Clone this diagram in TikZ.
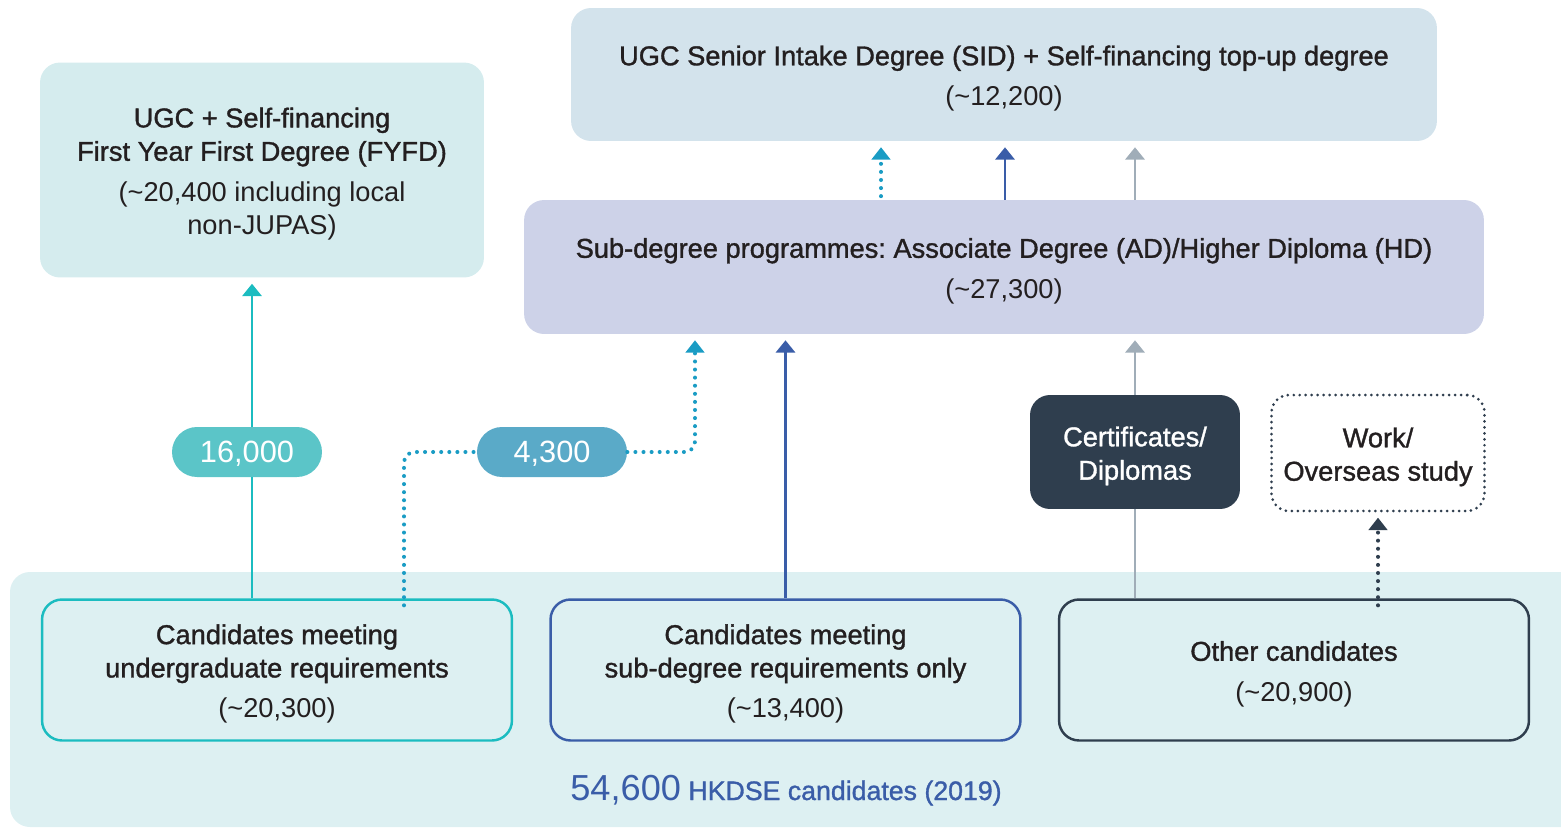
\documentclass[tikz,border=0pt]{standalone}
\usepackage{fontspec}
\setmainfont{Liberation Sans}
\newfontfamily\medfont{Liberation Sans}[FakeBold=1.2]
\usetikzlibrary{arrows.meta}
\definecolor{bandbg}{HTML}{DDF0F2}
\definecolor{fyfdbg}{HTML}{D5ECEE}
\definecolor{sidbg}{HTML}{D3E3EC}
\definecolor{subbg}{HTML}{CDD2E8}
\definecolor{tealc}{HTML}{1BBCC0}
\definecolor{pillA}{HTML}{5BC5C8}
\definecolor{pillB}{HTML}{5AAAC8}
\definecolor{dotc}{HTML}{1A9CC4}
\definecolor{bluec}{HTML}{3A5DA8}
\definecolor{greyc}{HTML}{A0ADB8}
\definecolor{darkc}{HTML}{2F3E4E}
\definecolor{txt}{HTML}{231F20}
\newcommand{\tpad}{\rule{0pt}{15.7pt}}
\tikzset{>={Triangle[width=11pt,length=7pt]}}
\tikzset{
  boxtext/.style={align=center, text=txt,
    font=\fontsize{15.5}{19}\selectfont\frenchspacing},
  bigbox/.style={boxtext, rounded corners=0.4cm, inner sep=0pt},
  candbox/.style={boxtext, rounded corners=0.4cm, fill=bandbg, line width=1.4pt,
    minimum width=9.4cm, minimum height=2.82cm, inner sep=0pt},
  pill/.style={rounded corners=0.5cm, minimum width=3cm, minimum height=1cm, text height=14.7pt,
    text=white, font=\fontsize{17.5}{20}\selectfont, inner sep=0pt},
  solidarr/.style={->, line width=1.3pt},
  dotarr/.style={line width=2.3pt, line cap=round, dash pattern=on 0pt off 4.6pt},
}

\begin{document}
\begin{tikzpicture}[x=0.02cm, y=-0.02cm]
    \useasboundingbox (0,0) rectangle (1561,828);
    % background band
    \fill[bandbg, rounded corners=0.4cm] (10,572) rectangle (1590,827);
    % top boxes
    \node[bigbox, fill=fyfdbg, minimum width=8.88cm, minimum height=4.3cm] (fyfd) at (262,170)
        {\tpad\medfont UGC + Self-financing\\ \medfont First Year First Degree (FYFD)\\[4pt] (\textasciitilde 20,400 including local\\ non-JUPAS)};
    \node[bigbox, fill=sidbg, minimum width=17.32cm, minimum height=2.66cm] (sid) at (1004,74.5)
        {\tpad\medfont UGC Senior Intake Degree (SID) + Self-financing top-up degree\\[4pt] (\textasciitilde 12,200)};
    \node[bigbox, fill=subbg, minimum width=19.2cm, minimum height=2.68cm] (sub) at (1004,267)
        {\tpad\medfont Sub-degree programmes: Associate Degree (AD)/Higher Diploma (HD)\\[4pt] (\textasciitilde 27,300)};
    % candidate boxes
    \node[candbox, draw=tealc] (cand1) at (277,670)
        {\tpad\medfont Candidates meeting\\ \medfont undergraduate requirements\\[4pt] (\textasciitilde 20,300)};
    \node[candbox, draw=bluec] (cand2) at (785.5,670)
        {\tpad\medfont Candidates meeting\\ \medfont sub-degree requirements only\\[4pt] (\textasciitilde 13,400)};
    \node[candbox, draw=darkc] (cand3) at (1294,670)
        {\tpad\medfont Other candidates\\[4pt] (\textasciitilde 20,900)};
    % side boxes
    \node[boxtext, fill=darkc, text=white, rounded corners=0.4cm, minimum width=4.2cm,
        minimum height=2.28cm, inner sep=0pt] (cert) at (1135,452) {\tpad\medfont Certificates/\\ \medfont Diplomas};
    \node[boxtext, draw=darkc, line width=1.7pt, line cap=round, dash pattern=on 0pt off 3.4pt,
        rounded corners=0.35cm, minimum width=4.26cm, minimum height=2.32cm, inner sep=0pt]
        (work) at (1378,453) {\tpad\medfont Work/\\ \medfont Overseas study};
    % pills
    \node[pill, fill=pillA] (p16) at (247,452) {16,000};
    \node[pill, fill=pillB] (p43) at (552,452) {4,300};
    %\node at (786,800) ...
    \node[anchor=base, text=bluec, font=\fontsize{15.2}{18}\selectfont] (total) at (786,800)
        {{\fontsize{20.6}{24}\selectfont 54,600} \medfont HKDSE candidates (2019)};

    % connectors
    \coordinate (tA) at (252,452);
    \coordinate (dA) at (404,452);
    \coordinate (dB) at (695,452);
    \draw[tealc, line width=1.3pt] (tA |- cand1.north) -- (tA |- p16.south);
    \draw[solidarr, tealc, shorten >=3.4pt] (tA |- p16.north) -- (tA |- fyfd.south);
    \draw[dotarr, dotc, rounded corners=6pt] ([yshift=-4pt]dA |- cand1.north) -- (dA) -- (p43.west);
    \draw[dotarr, dotc, rounded corners=6pt] (p43.east) -- (dB) -- ([yshift=-10pt]dB |- sub.south);
    \fill[dotc] ([yshift=-3.4pt]dB |- sub.south) -- ++(-5.5pt,-7pt) -- ++(11pt,0) -- cycle;
    \draw[solidarr, bluec, shorten >=3.4pt] (cand2.north) -- (cand2.north |- sub.south);
    \draw[greyc, line width=1.3pt] (cert.south |- cand3.north) -- (cert.south);
    \draw[solidarr, greyc, shorten >=3.4pt] (cert.north) -- (cert.north |- sub.south);
    \draw[dotarr, darkc] ([yshift=-4pt]work.south |- cand3.north) -- ([yshift=-10pt]work.south);
    \fill[darkc] ([yshift=-3pt]work.south) -- ++(-5.5pt,-7pt) -- ++(11pt,0) -- cycle;
    % upper arrows
    \coordinate (uA) at (881,170);
    \coordinate (uB) at (1005,170);
    \coordinate (uC) at (1135,170);
    \draw[dotarr, dotc] ([yshift=2pt]uA |- sub.north) -- ([yshift=-10pt]uA |- sid.south);
    \fill[dotc] ([yshift=-3.4pt]uA |- sid.south) -- ++(-5.5pt,-7pt) -- ++(11pt,0) -- cycle;
    \draw[solidarr, bluec, shorten >=3.4pt] (uB |- sub.north) -- (uB |- sid.south);
    \draw[solidarr, greyc, shorten >=3.4pt] (uC |- sub.north) -- (uC |- sid.south);
\end{tikzpicture}
\end{document}
